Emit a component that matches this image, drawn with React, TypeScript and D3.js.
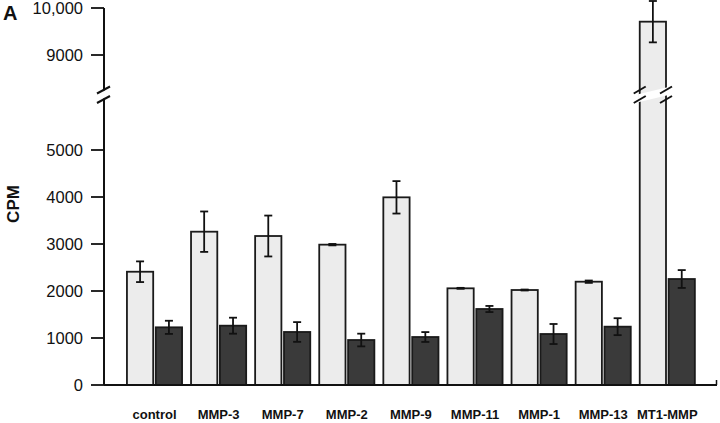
import React from "react";
import * as d3 from "d3";

const categories = ["control", "MMP-3", "MMP-7", "MMP-2", "MMP-9", "MMP-11", "MMP-1", "MMP-13", "MT1-MMP"];
const lightValues = [2410, 3262, 3170, 2986, 3993, 2057, 2021, 2198, 9709];
const lightErrors = [220, 430, 435, 15, 345, 10, 10, 25, 440];
const darkValues = [1227, 1262, 1128, 957, 1021, 1617, 1085, 1241, 2255];
const darkErrors = [140, 170, 210, 135, 105, 65, 213, 180, 190];
const lowerTicks = [0, 1000, 2000, 3000, 4000, 5000];
const upperTicks = [9000, 10000];
const upperTickLabels = ["9000", "10,000"];

const W = 720;
const H = 423;
const FONT = "'Liberation Sans', Arial, Helvetica, sans-serif";

export default function App() {
  const axisX = 104;
  const baseY = 385;
  const lower = d3.scaleLinear().domain([0, 6000]).range([baseY, 103]);
  const upper = d3.scaleLinear().domain([8250, 10000]).range([90.25, 8]);
  const y = (v: number) => (v <= 6000 ? lower(v) : upper(v));

  const x = d3
    .scaleBand<string>()
    .domain(categories)
    .range([122.45, 699.35])
    .paddingInner(0.14)
    .paddingOuter(0.07);
  const sub = d3
    .scaleBand<string>()
    .domain(["light", "dark"])
    .range([0, x.bandwidth()])
    .paddingInner(0.09);

  const series = [
    { key: "light", values: lightValues, errors: lightErrors, fill: "#ececec" },
    { key: "dark", values: darkValues, errors: darkErrors, fill: "#3a3a3a" },
  ];

  const breakY1 = 90; // upper slash center
  const breakY2 = 99.5; // lower slash center
  const slope = 7; // vertical rise across slash

  const breakMark = (cx: number, halfW: number, key: string) => (
    <g key={key}>
      <polygon
        points={`${cx - halfW},${breakY1 + slope / 2 + 1} ${cx + halfW},${breakY1 - slope / 2 + 1} ${cx + halfW},${breakY2 - slope / 2 - 1} ${cx - halfW},${breakY2 + slope / 2 - 1}`}
        fill="#fff"
      />
      <line x1={cx - halfW} y1={breakY1 + slope / 2} x2={cx + halfW} y2={breakY1 - slope / 2} stroke="#111" strokeWidth={2} />
      <line x1={cx - halfW} y1={breakY2 + slope / 2} x2={cx + halfW} y2={breakY2 - slope / 2} stroke="#111" strokeWidth={2} />
    </g>
  );

  const mtX = x("MT1-MMP")! + sub("light")!;
  const mtW = sub.bandwidth();

  return (
    <svg width={W} height={H} style={{ position: "absolute", left: 0, top: 0, background: "#fff" }} fontFamily={FONT}>
      <text x={3} y={20} fontSize={20} fontWeight="bold" fill="#111">A</text>
      <text
        transform={`translate(19,204) rotate(-90)`}
        textAnchor="middle"
        fontSize={17}
        fontWeight="bold"
        fill="#111"
      >
        CPM
      </text>

      {/* bars */}
      {series.map((s) =>
        categories.map((c, i) => {
          const bx = x(c)! + sub(s.key)!;
          const bw = sub.bandwidth();
          const top = y(s.values[i]);
          return (
            <rect
              key={s.key + c}
              x={bx}
              y={top}
              width={bw}
              height={baseY - top}
              fill={s.fill}
              stroke="#1a1a1a"
              strokeWidth={1.8}
            />
          );
        })
      )}

      {/* bar break for MT1-MMP */}
      <polygon
        points={`${mtX - 1.5},${breakY1 + slope / 2 + 0.8} ${mtX + mtW + 1.5},${breakY1 - slope / 2 + 0.8} ${mtX + mtW + 1.5},${breakY2 - slope / 2 - 0.8} ${mtX - 1.5},${breakY2 + slope / 2 - 0.8}`}
        fill="#fff"
      />
      {[mtX, mtX + mtW].map((ex, k) => (
        <g key={"bb" + k}>
          <line x1={ex - 6} y1={breakY1 + slope / 2} x2={ex + 6} y2={breakY1 - slope / 2} stroke="#111" strokeWidth={2} />
          <line x1={ex - 6} y1={breakY2 + slope / 2} x2={ex + 6} y2={breakY2 - slope / 2} stroke="#111" strokeWidth={2} />
        </g>
      ))}

      {/* error bars */}
      {series.map((s) =>
        categories.map((c, i) => {
          const cx = x(c)! + sub(s.key)! + sub.bandwidth() / 2;
          const hi = y(s.values[i] + s.errors[i]);
          const lo = y(s.values[i] - s.errors[i]);
          return (
            <g key={"e" + s.key + c} stroke="#111" strokeWidth={1.8}>
              <line x1={cx} x2={cx} y1={hi} y2={lo} />
              <line x1={cx - 4} x2={cx + 4} y1={hi} y2={hi} />
              <line x1={cx - 4} x2={cx + 4} y1={lo} y2={lo} />
            </g>
          );
        })
      )}

      {/* y axis */}
      <line x1={axisX} x2={axisX} y1={upper(10000)} y2={baseY} stroke="#111" strokeWidth={2} />
      {lowerTicks.map((t) => (
        <g key={"lt" + t}>
          <line x1={axisX - 13} x2={axisX} y1={lower(t)} y2={lower(t)} stroke="#111" strokeWidth={1.8} />
          <text x={axisX - 21} y={lower(t)} dy="0.35em" textAnchor="end" fontSize={16.5} fill="#111">
            {t}
          </text>
        </g>
      ))}
      {upperTicks.map((t, i) => (
        <g key={"ut" + t}>
          <line x1={axisX - 13} x2={axisX} y1={upper(t)} y2={upper(t)} stroke="#111" strokeWidth={1.8} />
          <text x={axisX - 21} y={upper(t)} dy="0.35em" textAnchor="end" fontSize={16.5} fill="#111">
            {upperTickLabels[i]}
          </text>
        </g>
      ))}
      {breakMark(axisX - 0.5, 6.5, "axisbreak")}

      {/* x axis */}
      <line x1={axisX} x2={717} y1={baseY} y2={baseY} stroke="#111" strokeWidth={2} />
      <line x1={716.5} x2={716.5} y1={baseY} y2={baseY - 5} stroke="#111" strokeWidth={1.5} />

      {categories.map((c) => (
        <text
          key={"xl" + c}
          x={x(c)! + x.bandwidth() / 2}
          y={419}
          textAnchor="middle"
          fontSize={13}
          fontWeight="bold"
          fill="#111"
        >
          {c}
        </text>
      ))}
    </svg>
  );
}
